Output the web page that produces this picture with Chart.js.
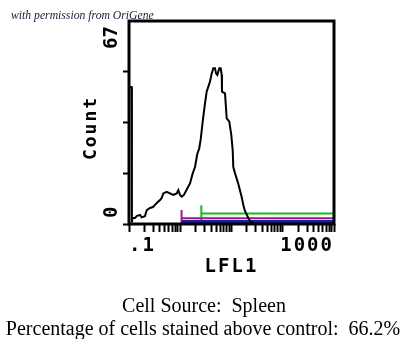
<!DOCTYPE html>
<html>
<head>
<meta charset="utf-8">
<script src="https://cdn.jsdelivr.net/npm/chart.js@4.4.1/dist/chart.umd.min.js"></script>
<style>
  html, body { margin: 0; padding: 0; background: #fff; }
  #wrap { width: 408px; height: 339px; }
</style>
</head>
<body>
<div id="wrap"><canvas id="histo" width="408" height="339"></canvas></div>
<script>
// Histograma LFL1 (canal -> contagem)
const lfl1 = [0.1, 0.112, 0.114, 0.117, 0.131, 0.141, 0.164, 0.177, 0.205, 0.222,
  0.257, 0.294, 0.322, 0.352, 0.403, 0.435, 0.467, 0.544, 0.631, 0.732,
  0.852, 0.916, 0.989, 1.07, 1.18, 1.34, 1.55, 1.75, 1.94, 2.15,
  2.35, 2.51, 2.74, 3.04, 3.28, 3.81, 4.11, 4.42, 4.76, 4.98,
  5.28, 5.53, 5.78, 6.16, 6.44, 6.52, 7.47, 8.06, 9.06, 9.9,
  10.55, 10.84, 11.7, 13.6, 15.8, 17.0, 18.3, 21.3, 23.0, 26.3,
  40, 1000];
const counts = [45.2, 45.2, 0.5, 2.0, 2.0, 2.6, 3.0, 2.2, 2.6, 4.6,
  5.3, 5.6, 6.3, 7.0, 7.9, 8.6, 10.1, 10.6, 10.1, 9.6,
  10.1, 11.2, 9.6, 9.0, 9.6, 11.4, 13.4, 16.7, 18.8, 23.1,
  25.0, 28.0, 33.8, 39.8, 43.7, 47.0, 49.7, 51.4, 51.4, 49.7,
  49.2, 50.3, 51.4, 51.4, 49.2, 43.7, 43.1, 34.9, 33.8, 29.4,
  24.4, 18.8, 16.8, 13.2, 8.9, 6.3, 4.3, 2.0, 1.0, 0.2,
  0, 0];

// Marcadores (gates) na base do grafico
const gateColors = ['#1c1ca0', '#9a1890', '#10c010'];
const gateWidths = [3, 2, 2];
const gateFrom = [1.06, 1.06, 2.58];
const gateTo = [1000, 1000, 1000];
const gateLevel = [0.8, 1.9, 3.5];
const gateTickLow = [0.8, 0.3, 0.7];
const gateTickHigh = [0.8, 4.6, 6.2];

// Eixos
const yTicks = [0, 16.75, 33.5, 50.25, 67];
const yLabelValues = [0, 67];
const yLabelText = ['\u0030', '67'];
const xDecades = [0.1, 1, 10, 100];
const xMax = 1000;
const xLabelValues = [0.1, 1000];
const xLabelText = ['.1', '1000'];

const monoFont = 'DejaVu Sans Mono';

// ticks menores do eixo log: 1..9 em cada decada
const xTickValues = [];
xDecades.forEach((d) => {
  for (let k = 1; k <= 9; k++) xTickValues.push(k === 1 ? d : k * d);
});
xTickValues.push(xMax);

const gateDatasets = gateFrom.map((from, i) => ({
  data: [
    { x: from, y: gateTickHigh[i] },
    { x: from, y: gateTickLow[i] },
    { x: from, y: gateLevel[i] },
    { x: gateTo[i], y: gateLevel[i] },
    { x: gateTo[i], y: gateTickHigh[i] },
    { x: gateTo[i], y: gateTickLow[i] },
  ],
  borderColor: gateColors[i],
  borderWidth: gateWidths[i],
  pointRadius: 0,
  tension: 0,
}));

// Moldura, rotulos do eixo Y e legendas
const molduraPlugin = {
  id: 'moldura',
  beforeDraw(chart) {
    chart.ctx.letterSpacing = '2px';
  },
  afterDraw(chart) {
    const ctx = chart.ctx;
    const area = chart.chartArea;
    const yScale = chart.scales.y;
    ctx.save();
    ctx.letterSpacing = '0px';

    ctx.strokeStyle = '#000';
    ctx.lineWidth = 3;
    ctx.strokeRect(area.left, area.top, area.right - area.left, area.bottom - area.top);

    // rotulos verticais do eixo Y
    ctx.fillStyle = '#000';
    ctx.font = 'bold 19px "' + monoFont + '"';
    ctx.textBaseline = 'middle';
    yLabelValues.forEach((v, i) => {
      const py = yScale.getPixelForValue(v);
      ctx.save();
      ctx.translate(area.left - 17, v === yScale.min ? py - 6 : py + 5);
      ctx.rotate(-Math.PI / 2);
      ctx.textAlign = v === yScale.min ? 'left' : 'right';
      ctx.fillText(yLabelText[i], 0, 0);
      ctx.restore();
    });

    ctx.save();
    ctx.letterSpacing = '2px';
    ctx.font = 'bold 18px "' + monoFont + '"';
    ctx.translate(91, 128);
    ctx.rotate(-Math.PI / 2);
    ctx.textAlign = 'center';
    ctx.fillText('Count', 0, 0);
    ctx.restore();

    ctx.textBaseline = 'alphabetic';
    ctx.textAlign = 'left';
    ctx.fillStyle = '#202040';
    ctx.font = 'italic 11.7px "Liberation Serif"';
    ctx.fillText('with permission from OriGene', 11, 19);

    ctx.fillStyle = '#000';
    ctx.textAlign = 'center';
    ctx.font = '20px "Liberation Serif"';
    ctx.fillText('Cell Source:  Spleen', 204, 311.5);
    ctx.fillText('Percentage of cells stained above control:  66.2%', 203, 335);
    ctx.restore();
  },
};

const ctx = document.getElementById('histo').getContext('2d');
const grafico = new Chart(ctx, {
  type: 'line',
  data: {
    datasets: [
      {
        data: lfl1.map((v, i) => ({ x: v, y: counts[i] })),
        borderColor: '#000',
        borderWidth: 2,
        pointRadius: 0,
        tension: 0,
      },
      ...gateDatasets,
    ],
  },
  options: {
    responsive: false,
    animation: false,
    layout: { padding: { left: 0, top: 21, right: 74, bottom: 55 } },
    plugins: { legend: { display: false }, tooltip: { enabled: false } },
    scales: {
      x: {
        type: 'logarithmic',
        min: 0.1,
        max: xMax,
        afterBuildTicks: (scale) => {
          scale.ticks = xTickValues.map((v) => ({ value: v }));
        },
        afterFit: (scale) => {
          scale.height = 60;
        },
        border: { display: false },
        grid: { drawOnChartArea: false, drawTicks: true, tickLength: 8, tickWidth: 2, tickColor: '#000' },
        ticks: {
          autoSkip: false,
          maxRotation: 0,
          align: 'inner',
          padding: 3,
          color: '#000',
          font: { family: monoFont, size: 19, weight: 'bold' },
          callback: (value) => {
            const i = xLabelValues.indexOf(value);
            return i < 0 ? '' : xLabelText[i];
          },
        },
        title: {
          display: true,
          text: 'LFL1',
          color: '#000',
          font: { family: monoFont, size: 19, weight: 'bold' },
          padding: { top: 0, bottom: 6 },
        },
      },
      y: {
        min: 0,
        max: 67,
        afterBuildTicks: (scale) => {
          scale.ticks = yTicks.map((v) => ({ value: v }));
        },
        afterFit: (scale) => {
          scale.width = 129;
        },
        border: { display: false },
        grid: {
          drawOnChartArea: false,
          drawTicks: true,
          tickLength: 6,
          tickWidth: 2,
          tickColor: (c) => (c.tick && c.tick.value === 67 ? 'rgba(0,0,0,0)' : '#000'),
        },
        ticks: { display: false },
      },
    },
  },
  plugins: [molduraPlugin],
});
</script>
</body>
</html>
